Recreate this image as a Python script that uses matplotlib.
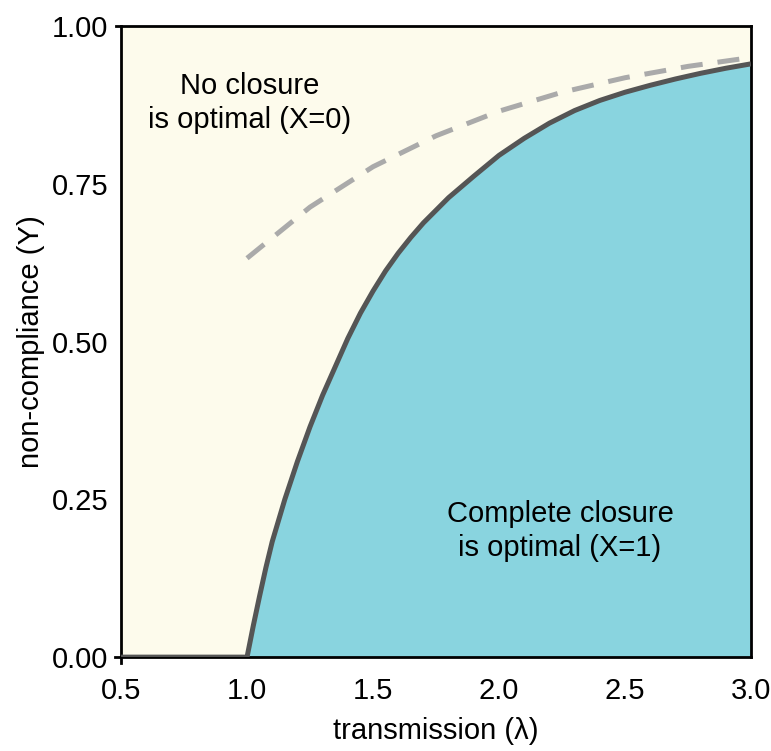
import numpy as np
import matplotlib.pyplot as plt

plt.rcParams['font.family'] = ['Liberation Sans', 'DejaVu Sans']

# frontière entre les deux régimes
lam_frontier = [0.5, 1.0, 1.025, 1.05, 1.075, 1.1, 1.15, 1.2, 1.25, 1.3,
                1.35, 1.4, 1.45, 1.5, 1.55, 1.6, 1.65, 1.7, 1.8, 1.9,
                2.0, 2.1, 2.2, 2.3, 2.4, 2.5, 2.6, 2.7, 2.8, 2.9, 3.0]
y_frontier = [0.0, 0.0, 0.05, 0.097, 0.142, 0.183, 0.25, 0.31, 0.365, 0.415,
              0.46, 0.505, 0.545, 0.58, 0.612, 0.64, 0.665, 0.688, 0.728, 0.762,
              0.795, 0.822, 0.846, 0.866, 0.882, 0.895, 0.906, 0.916, 0.925,
              0.933, 0.94]

# courbe en tirets
lam_dashed = [1.0, 1.25, 1.5, 1.75, 2.0, 2.25, 2.5, 2.75, 3.0]
y_dashed = [0.632, 0.713, 0.777, 0.826, 0.865, 0.895, 0.918, 0.936, 0.95]

xticks = [0.5, 1.0, 1.5, 2.0, 2.5, 3.0]
yticks = [0.0, 0.25, 0.5, 0.75, 1.0]

CREAM = '#fdfbec'
CYAN = '#89d4df'
FS = 21

fig = plt.figure(figsize=(7.71, 7.51), dpi=100)
ax = fig.add_axes([0.157, 0.125, 0.817, 0.8404])
ax.set_facecolor(CREAM)

lam = np.array(lam_frontier)
yf = np.array(y_frontier)
mask = lam >= 1.0
ax.fill_between(lam[mask], 0, yf[mask], color=CYAN, linewidth=0, zorder=1)
ax.plot(lam, yf, color='#555555', linewidth=3.6, zorder=3,
        solid_capstyle='butt', solid_joinstyle='round')
ax.plot(lam_dashed, y_dashed, color='#aaaaaa', linewidth=3.6,
        dashes=(4.4, 3), zorder=2)

ax.text(1.012, 0.878, 'No closure\nis optimal (X=0)', ha='center',
        va='center', fontsize=FS, linespacing=1.3)
ax.text(2.242, 0.2, 'Complete closure\nis optimal (X=1)', ha='center',
        va='center', fontsize=FS, linespacing=1.3)

ax.set_xlim(0.5, 3.0)
ax.set_ylim(0.0, 1.0)
ax.set_xticks(xticks)
ax.set_xticklabels([f'{v:.1f}' for v in xticks])
ax.set_yticks(yticks)
ax.set_yticklabels([f'{v:.2f}' for v in yticks])
ax.tick_params(length=0, labelsize=FS)
ax.tick_params(axis='x', pad=14)
ax.tick_params(axis='y', pad=9)
for s in ax.spines.values():
    s.set_linewidth(2)
# les axes dépassent un peu aux coins
ax.spines['left'].set_bounds(-0.01, 1.0)
ax.spines['bottom'].set_bounds(0.475, 3.0)
ax.spines['top'].set_bounds(0.48, 3.0)

ax.set_xlabel('transmission (λ)', fontsize=FS, labelpad=9)
ax.set_ylabel('non-compliance (Y)', fontsize=FS, labelpad=5)

plt.savefig('out.png', dpi=100)
